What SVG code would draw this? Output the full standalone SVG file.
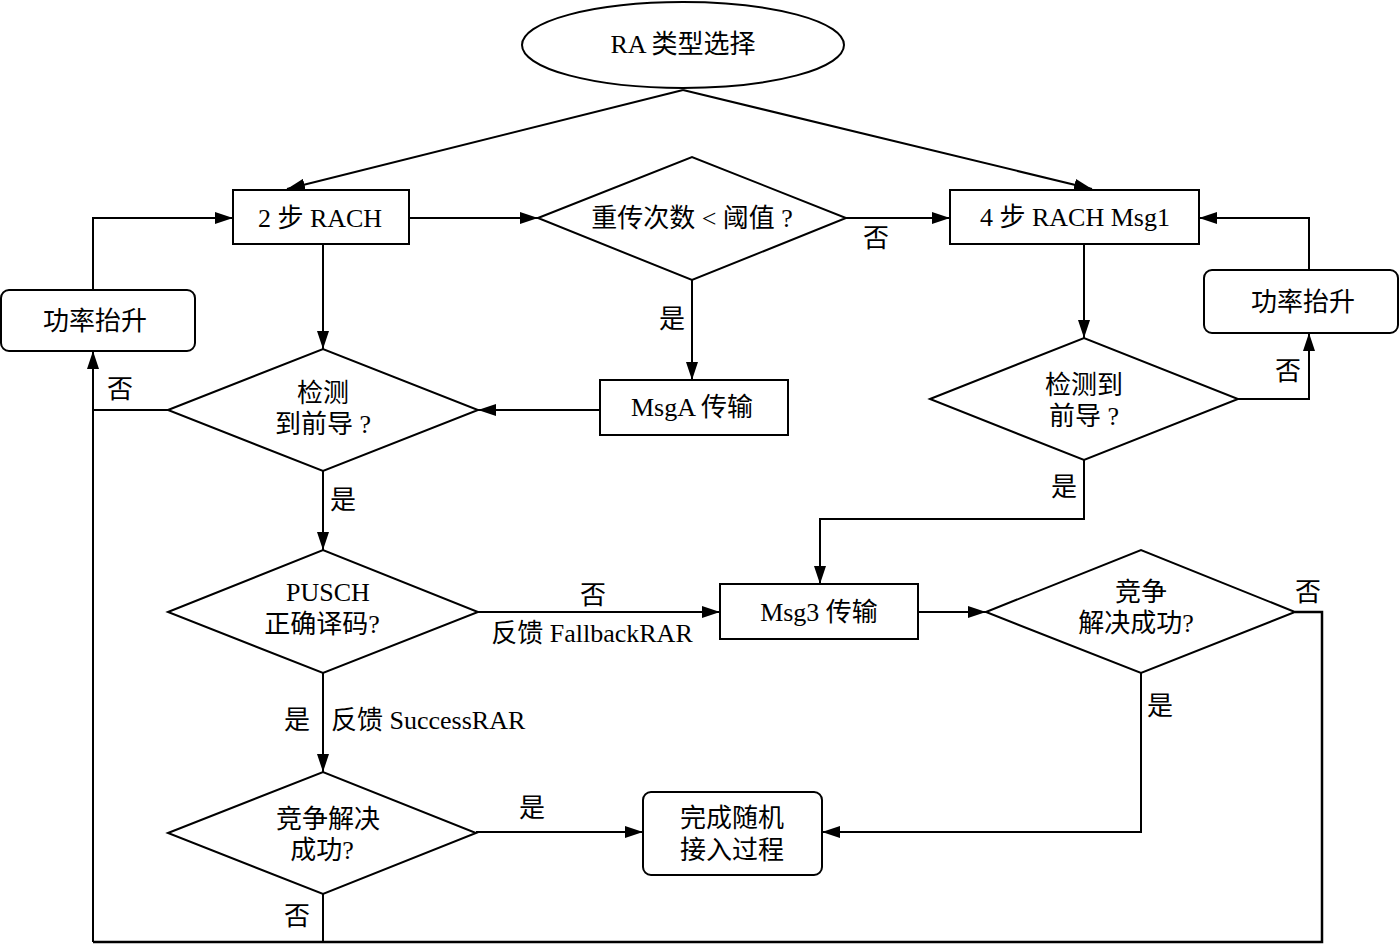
<svg xmlns="http://www.w3.org/2000/svg" width="1400" height="945" viewBox="0 0 1400 945">
<style>
.s{fill:#fff;stroke:#000;stroke-width:2}
.c{fill:none;stroke:#000;stroke-width:2}
.t{font-family:"Liberation Serif","Noto Sans CJK SC",serif;font-size:26px;fill:#000;text-anchor:middle;dominant-baseline:central}
.l{font-family:"Liberation Serif","Noto Sans CJK SC",serif;font-size:26px;fill:#000;dominant-baseline:central}
</style>
<defs>
<marker id="a" markerUnits="userSpaceOnUse" markerWidth="20" markerHeight="12" refX="18" refY="6" orient="auto">
<path d="M0,0 L18,6 L0,12 Z" fill="#000"/>
</marker>
</defs>
<rect width="1400" height="945" fill="#fff"/>
<g id="connectors">
<line class="c" x1="683" y1="90" x2="287" y2="189" marker-end="url(#a)"/>
<line class="c" x1="683" y1="90" x2="1092" y2="189" marker-end="url(#a)"/>
<line class="c" x1="409" y1="218" x2="538" y2="218" marker-end="url(#a)"/>
<line class="c" x1="846" y1="218" x2="950" y2="218" marker-end="url(#a)"/>
<line class="c" x1="692" y1="280" x2="692" y2="380" marker-end="url(#a)"/>
<line class="c" x1="600" y1="410" x2="478" y2="410" marker-end="url(#a)"/>
<line class="c" x1="323" y1="244" x2="323" y2="349" marker-end="url(#a)"/>
<polyline class="c" points="93,290 93,218 233,218" marker-end="url(#a)"/>
<polyline class="c" points="168,410 93,410"/>
<polyline class="c" points="93,942 93,351" marker-end="url(#a)"/>
<line class="c" x1="323" y1="471" x2="323" y2="550" marker-end="url(#a)"/>
<line class="c" x1="478" y1="612" x2="720" y2="612" marker-end="url(#a)"/>
<line class="c" x1="323" y1="673" x2="323" y2="772" marker-end="url(#a)"/>
<line class="c" x1="476" y1="832" x2="643" y2="832" marker-end="url(#a)"/>
<polyline class="c" points="323,894 323,942"/>
<polyline class="c" points="93,942 1322,942 1322,612 1295,612" style="stroke-width:2.5"/>
<line class="c" x1="1084" y1="244" x2="1084" y2="338" marker-end="url(#a)"/>
<polyline class="c" points="1309,270 1309,218 1199,218" marker-end="url(#a)"/>
<polyline class="c" points="1238,399 1309,399 1309,333" marker-end="url(#a)"/>
<polyline class="c" points="1084,460 1084,519 820,519 820,584" marker-end="url(#a)"/>
<line class="c" x1="918" y1="612" x2="986" y2="612" marker-end="url(#a)"/>
<polyline class="c" points="1141,673 1141,832 822,832" marker-end="url(#a)"/>
<text class="t" x="876" y="238">否</text>
<text class="t" x="672" y="319">是</text>
<text class="t" x="120" y="389">否</text>
<text class="t" x="343" y="500">是</text>
<text class="t" x="593" y="595">否</text>
<text class="t" x="592" y="633">反馈 FallbackRAR</text>
<text class="t" x="297" y="720">是</text>
<text class="l" x="331" y="720">反馈 SuccessRAR</text>
<text class="t" x="532" y="808">是</text>
<text class="t" x="297" y="916">否</text>
<text class="t" x="1288" y="371">否</text>
<text class="t" x="1064" y="487">是</text>
<text class="t" x="1308" y="592">否</text>
<text class="t" x="1160" y="706">是</text>
</g>
<g id="start"><ellipse class="s" cx="683" cy="45" rx="161" ry="43"/><text class="t" x="683" y="44">RA 类型选择</text></g>
<g id="rach2"><rect class="s" x="233" y="190" width="176" height="54"/><text class="t" x="320" y="218">2 步 RACH</text></g>
<g id="retx"><polygon class="s" points="538,218 692,157 846,218 692,280"/><text class="t" x="692" y="218">重传次数 &lt; 阈值 ?</text></g>
<g id="rach4"><rect class="s" x="950" y="190" width="249" height="54"/><text class="t" x="1075" y="217">4 步 RACH Msg1</text></g>
<g id="power-right"><rect class="s" x="1204" y="270" width="194" height="63" rx="8"/><text class="t" x="1303" y="302">功率抬升</text></g>
<g id="detect-right"><polygon class="s" points="930,399 1084,338 1238,399 1084,460"/><text class="t" x="1084" y="385">检测到</text><text class="t" x="1084" y="416">前导 ?</text></g>
<g id="power-left"><rect class="s" x="1" y="290" width="194" height="61" rx="8"/><text class="t" x="95" y="321">功率抬升</text></g>
<g id="detect-left"><polygon class="s" points="168,410 323,349 478,410 323,471"/><text class="t" x="323" y="393">检测</text><text class="t" x="323" y="424">到前导 ?</text></g>
<g id="msga"><rect class="s" x="600" y="380" width="188" height="55"/><text class="t" x="692" y="407">MsgA 传输</text></g>
<g id="pusch"><polygon class="s" points="168,612 323,550 478,612 323,673"/><text class="t" x="328" y="592">PUSCH</text><text class="t" x="322" y="624">正确译码?</text></g>
<g id="msg3"><rect class="s" x="720" y="584" width="198" height="55"/><text class="t" x="819" y="612">Msg3 传输</text></g>
<g id="contention-right"><polygon class="s" points="986,612 1141,550 1295,612 1141,673"/><text class="t" x="1141" y="592">竞争</text><text class="t" x="1136" y="623">解决成功?</text></g>
<g id="contention-left"><polygon class="s" points="168,833 323,772 476,833 323,894"/><text class="t" x="328" y="819">竞争解决</text><text class="t" x="322" y="850">成功?</text></g>
<g id="done"><rect class="s" x="643" y="792" width="179" height="83" rx="8"/><text class="t" x="732" y="818">完成随机</text><text class="t" x="732" y="850">接入过程</text></g>
</svg>
